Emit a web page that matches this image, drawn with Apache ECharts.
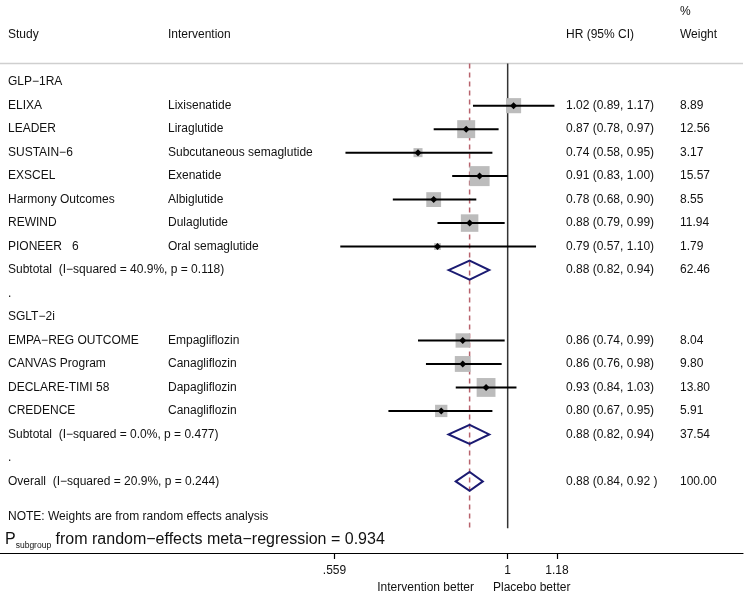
<!DOCTYPE html>
<html>
<head>
<meta charset="utf-8">
<script src="https://cdn.jsdelivr.net/npm/echarts@6/dist/echarts.min.js"></script>
<style>html,body{margin:0;padding:0;background:#fff}#c{width:755px;height:596px}</style>
</head>
<body>
<div id="c"></div>
<script>
// ---- data ----
const studies = ['GLP−1RA','ELIXA','LEADER','SUSTAIN−6','EXSCEL','Harmony Outcomes','REWIND','PIONEER   6',
  'Subtotal  (I−squared = 40.9%, p = 0.118)','.','SGLT−2i','EMPA−REG OUTCOME','CANVAS Program','DECLARE-TIMI 58','CREDENCE',
  'Subtotal  (I−squared = 0.0%, p = 0.477)','.','Overall  (I−squared = 20.9%, p = 0.244)'];
const interventions = ['','Lixisenatide','Liraglutide','Subcutaneous semaglutide','Exenatide','Albiglutide','Dulaglutide','Oral semaglutide',
  '','','','Empagliflozin','Canagliflozin','Dapagliflozin','Canagliflozin','','',''];
const rowTypes = ['group','study','study','study','study','study','study','study','pooled','blank','group','study','study','study','study','pooled','blank','pooled'];
const hr = [null,1.02,0.87,0.74,0.91,0.78,0.88,0.79,0.88,null,null,0.86,0.86,0.93,0.80,0.88,null,0.88];
const ciLow = [null,0.89,0.78,0.58,0.83,0.68,0.79,0.57,0.82,null,null,0.74,0.76,0.84,0.67,0.82,null,0.84];
const ciHigh = [null,1.17,0.97,0.95,1.00,0.90,0.99,1.10,0.94,null,null,0.99,0.98,1.03,0.95,0.94,null,0.92];
const hrText = ['','1.02 (0.89, 1.17)','0.87 (0.78, 0.97)','0.74 (0.58, 0.95)','0.91 (0.83, 1.00)','0.78 (0.68, 0.90)','0.88 (0.79, 0.99)','0.79 (0.57, 1.10)',
  '0.88 (0.82, 0.94)','','','0.86 (0.74, 0.99)','0.86 (0.76, 0.98)','0.93 (0.84, 1.03)','0.80 (0.67, 0.95)','0.88 (0.82, 0.94)','','0.88 (0.84, 0.92 )'];
const weights = [null,8.89,12.56,3.17,15.57,8.55,11.94,1.79,62.46,null,null,8.04,9.80,13.80,5.91,37.54,null,100.00];
const weightText = ['','8.89','12.56','3.17','15.57','8.55','11.94','1.79','62.46','','','8.04','9.80','13.80','5.91','37.54','','100.00'];
const overallHR = 0.88;
const tickValues = [0.559, 1, 1.18];
const tickLabels = ['.559', '1', '1.18'];
const axisMin = 0.1818, axisMax = 2.204;
const noteText = 'NOTE: Weights are from random effects analysis';
const pText = ' from random−effects meta−regression = 0.934';

// ---- layout ----
const FONT = '"Liberation Sans", Arial, sans-serif';
const colX = {study: 8, interv: 168, hr: 566, w: 680};
const ln = Math.log;

const chart = echarts.init(document.getElementById('c'), null, {renderer: 'canvas'});

const rowData = studies.map((s, i) => [i, hr[i] == null ? null : ln(hr[i]), ciLow[i] == null ? null : ln(ciLow[i]), ciHigh[i] == null ? null : ln(ciHigh[i]), weights[i]]);

function forestItem(params, api) {
  const i = api.value(0);
  const type = rowTypes[i];
  if (hr[i] == null) return null;
  const y = api.coord([0, i])[1];
  const xc = api.coord([ln(hr[i]), i])[0];
  const xl = api.coord([ln(ciLow[i]), i])[0];
  const xh = api.coord([ln(ciHigh[i]), i])[0];
  if (type === 'pooled') {
    const h = 9.5;
    return {type: 'polygon', shape: {points: [[xl, y], [xc, y - h], [xh, y], [xc, y + h]]},
      style: {fill: 'none', stroke: '#1b1b72', lineWidth: 2}};
  }
  const side = 5.07 * Math.sqrt(weights[i]);
  return {type: 'group', children: [
    {type: 'rect', shape: {x: xc - side / 2, y: y - side / 2, width: side, height: side}, style: {fill: '#bcbcbc'}},
    {type: 'line', shape: {x1: xl, y1: y, x2: xh, y2: y}, style: {stroke: '#000', lineWidth: 2}},
    {type: 'polygon', shape: {points: [[xc - 3.5, y], [xc, y - 3.5], [xc + 3.5, y], [xc, y + 3.5]]}, style: {fill: '#000'}}
  ]};
}

function textItem(params, api) {
  const i = api.value(0);
  const y = api.coord([0, i])[1];
  const ts = {fontSize: 12, fontFamily: FONT, fill: '#111', verticalAlign: 'middle'};
  const kids = [
    {type: 'text', x: colX.study, y: y, style: Object.assign({text: studies[i]}, ts)},
    {type: 'text', x: colX.interv, y: y, style: Object.assign({text: interventions[i]}, ts)},
    {type: 'text', x: colX.hr, y: y, style: Object.assign({text: hrText[i]}, ts)},
    {type: 'text', x: colX.w, y: y, style: Object.assign({text: weightText[i]}, ts)}
  ];
  return {type: 'group', children: kids};
}

function headerItem(params, api) {
  const ts = {fontSize: 12, fontFamily: FONT, fill: '#111', verticalAlign: 'middle'};
  const yPct = api.coord([0, -3.0])[1];
  const yHead = api.coord([0, -2.03])[1];
  const yLine = api.coord([0, -0.8])[1];
  const yNote = api.coord([0, 18.5])[1];
  const yP = api.coord([0, 19.4])[1];
  return {type: 'group', children: [
    {type: 'text', x: colX.w, y: yPct, style: Object.assign({text: '%'}, ts)},
    {type: 'text', x: colX.study, y: yHead, style: Object.assign({text: 'Study'}, ts)},
    {type: 'text', x: colX.interv, y: yHead, style: Object.assign({text: 'Intervention'}, ts)},
    {type: 'text', x: colX.hr, y: yHead, style: Object.assign({text: 'HR (95% CI)'}, ts)},
    {type: 'text', x: colX.w, y: yHead, style: Object.assign({text: 'Weight'}, ts)},
    {type: 'line', shape: {x1: 0, y1: yLine, x2: 743, y2: yLine}, style: {stroke: '#cfcfcf', lineWidth: 1.5}},
    {type: 'text', x: colX.study, y: yNote, style: Object.assign({text: noteText}, ts)},
    {type: 'text', x: 5, y: yP, style: {
      text: '{a|P}{b|subgroup}{a|' + pText + '}', fontFamily: FONT, verticalAlign: 'middle', fill: '#111',
      rich: {a: {fontSize: 16, fontFamily: FONT, fill: '#111', verticalAlign: 'bottom', lineHeight: 20},
             b: {fontSize: 8.5, fontFamily: FONT, fill: '#111', verticalAlign: 'bottom', lineHeight: 20, padding: [0, 0, -2, 0]}}
    }}
  ]};
}

const vLineTop = -0.8, vLineBottom = 19.0;

chart.setOption({
  animation: false,
  grid: {left: 0, right: 12, top: 0, bottom: 43},
  xAxis: {
    type: 'value', min: ln(axisMin), max: ln(axisMax),
    splitLine: {show: false},
    axisLine: {onZero: false, lineStyle: {color: '#000', width: 1.2}},
    axisTick: {show: true, length: 6, customValues: tickValues.map(ln), lineStyle: {color: '#000', width: 1.2}},
    axisLabel: {
      customValues: tickValues.map(ln), margin: 12, fontSize: 12, fontFamily: FONT, color: '#111',
      formatter: function (v) {
        let best = 0, bd = Infinity;
        tickValues.forEach((t, k) => { const d = Math.abs(ln(t) - v); if (d < bd) { bd = d; best = k; } });
        return tickLabels[best];
      }
    }
  },
  yAxis: {type: 'value', inverse: true, min: -3.5, max: 20.05, show: false},
  series: [
    {type: 'custom', renderItem: headerItem, data: [[0]], silent: true, clip: false, z: 1},
    {type: 'line', data: [[ln(overallHR), vLineTop], [ln(overallHR), vLineBottom]], symbol: 'none', silent: true,
      lineStyle: {color: '#b8626c', width: 1.5, type: [5, 4]}, z: 2},
    {type: 'line', data: [[0, vLineTop], [0, vLineBottom]], symbol: 'none', silent: true,
      lineStyle: {color: '#333', width: 1.5}, z: 2},
    {type: 'custom', renderItem: forestItem, data: rowData, silent: true, clip: false, z: 3},
    {type: 'custom', renderItem: textItem, data: rowData, silent: true, clip: false, z: 4}
  ],
  graphic: [
    {type: 'text', right: 755 - 474, top: 582, style: {text: 'Intervention better', fontSize: 12, fontFamily: FONT, fill: '#111'}},
    {type: 'text', left: 493, top: 582, style: {text: 'Placebo better', fontSize: 12, fontFamily: FONT, fill: '#111'}}
  ]
});
</script>
</body>
</html>
